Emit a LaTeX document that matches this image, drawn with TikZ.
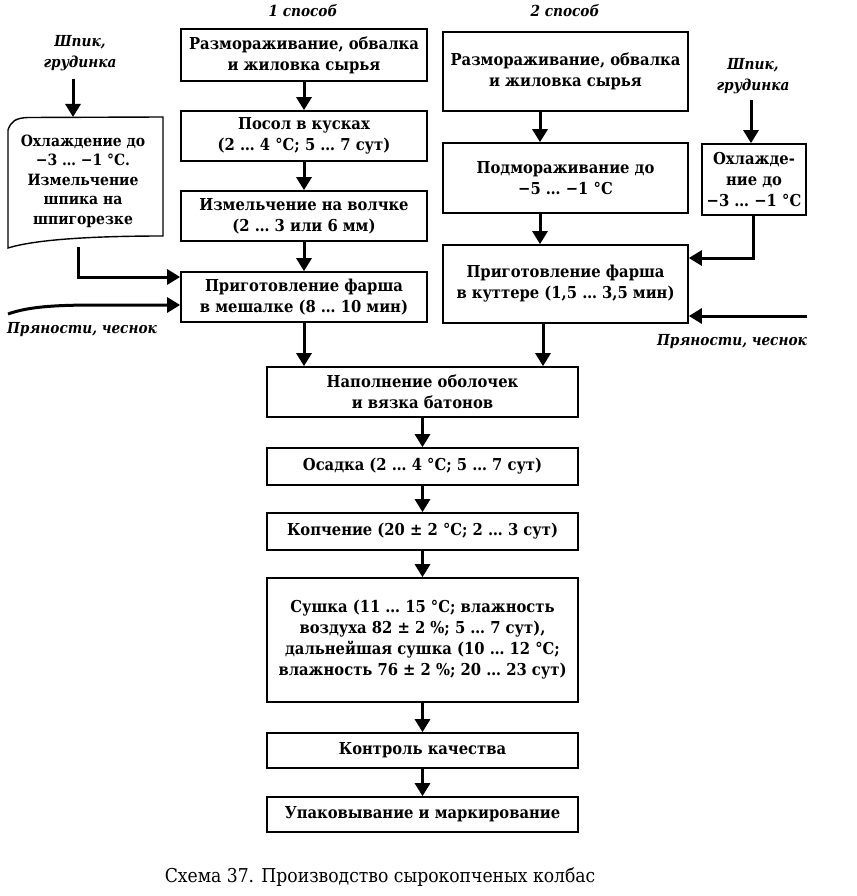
\documentclass[tikz,border=0pt]{standalone}
\usepackage{fontspec}
\IfFontExistsTF{DejaVu Serif Condensed}{%
  \setmainfont{DejaVu Serif Condensed}\def\fscale{1}}{%
  \setmainfont{DejaVu Serif}\def\fscale{0.9}}
\usetikzlibrary{arrows.meta}
\tikzset{
  box/.style={draw, line width=1.7pt, inner sep=0pt, align=center,
    font=\fontsize{\fpeval{16.4*\fscale}}{21}\selectfont\bfseries},
  arr/.style={line width=3pt, -{Triangle[length=13pt,width=15pt]}},
  lab/.style={align=center, inner sep=0pt, font=\fontsize{\fpeval{15.2*\fscale}}{21}\selectfont\bfseries\itshape},
  doctext/.style={align=center, inner sep=0pt, font=\fontsize{\fpeval{15.5*\fscale}}{19.5}\selectfont\bfseries}
}
\begin{document}
\begin{tikzpicture}[x=1pt,y=-1pt]
\useasboundingbox[fill=white] (0,0) rectangle (856,896);
% headers
\node[lab] (l1) at (303,11) {1 способ};
\node[lab] (l2) at (565,11) {2 способ};
% column 1
\node[box, minimum width=246pt, minimum height=52pt] (b1) at (304,55) {Размораживание, обвалка\\и жиловка сырья};
\node[box, minimum width=246pt, minimum height=50pt] (b2) at (304,136) {Посол в кусках\\(2 … 4 °С; 5 … 7 сут)};
\node[box, minimum width=246pt, minimum height=50pt] (b3) at (304,216) {Измельчение на волчке\\(2 … 3 или 6 мм)};
\node[box, minimum width=246pt, minimum height=50pt] (b4) at (304,297) {Приготовление фарша\\в мешалке (8 … 10 мин)};
% column 2
\node[box, minimum width=245pt, minimum height=79pt] (c1) at (565.5,71.5) {Размораживание, обвалка\\и жиловка сырья};
\node[box, minimum width=245pt, minimum height=70pt] (c2) at (565.5,178) {Подмораживание до\\−5 … −1 °С};
\node[box, minimum width=245pt, minimum height=78pt] (c3) at (565.5,284) {Приготовление фарша\\в куттере (1,5 … 3,5 мин)};
\node[box, minimum width=104pt, minimum height=71pt] (d) at (754,179.5) {Охлажде-\\ние до\\−3 … −1 °С};
% common column
\node[box, minimum width=311pt, minimum height=50pt] (e1) at (422.5,392) {Наполнение оболочек\\и вязка батонов};
\node[box, minimum width=311pt, minimum height=37pt] (e2) at (422.5,466.5) {Осадка (2 … 4 °С; 5 … 7 сут)};
\node[box, minimum width=311pt, minimum height=37pt] (e3) at (422.5,531.5) {Копчение (20 ± 2 °С; 2 … 3 сут)};
\node[box, minimum width=311pt, minimum height=124pt] (e4) at (422.5,640) {Сушка (11 … 15 °С; влажность\\воздуха 82 ± 2 \%; 5 … 7 сут),\\дальнейшая сушка (10 … 12 °С;\\влажность 76 ± 2 \%; 20 … 23 сут)};
\node[box, minimum width=311pt, minimum height=35pt] (e5) at (422.5,750.5) {Контроль качества};
\node[box, minimum width=311pt, minimum height=35pt] (e6) at (422.5,814.5) {Упаковывание и маркирование};
% left document box
\draw[line width=1.4pt, fill=white] (8,130) .. controls (11,121) and (16,118) .. (28,117.5) -- (163,117) -- (163,236)
  .. controls (110,236) and (40,238) .. (8,248) -- cycle;
\node[doctext] (doc) at (83,181) {Охлаждение до\\−3 … −1 °С.\\Измельчение\\шпика на\\шпигорезке};
\coordinate (doctop) at (73,117);
\coordinate (docbot) at (78,247);
% labels
\node[lab] (shL) at (80,53) {Шпик,\\грудинка};
\node[lab] (shR) at (753,76) {Шпик,\\грудинка};
\node[lab] (spL) at (82,330) {Пряности, чеснок};
\node[lab] (spR) at (732,342) {Пряности, чеснок};
\node[font=\fontsize{\fpeval{17.2*\fscale/0.9}}{20}\selectfont, inner sep=0pt] (cap) at (380,877) {Схема 37. Производство сырокопченых колбас};
% free ends
\coordinate (shLe) at (73,79);
\coordinate (shRe) at (751,100);
\coordinate (spLs) at (8,314);
\coordinate (spLy) at (0,305);
\coordinate (spRs) at (807,316);
\coordinate (jL) at (0,277);
\coordinate (jR) at (0,258);
\coordinate (cx) at (540,0);
% column 1 arrows
\draw[arr] (b1.south) -- (b2.north);
\draw[arr] (b2.south) -- (b3.north);
\draw[arr] (b3.south) -- (b4.north);
\draw[arr] (b4.south) -- (b4.south |- e1.north);
% column 2 arrows
\draw[arr] (cx |- c1.south) -- (cx |- c2.north);
\draw[arr] (cx |- c2.south) -- (cx |- c3.north);
\draw[arr] ([xshift=3pt]cx |- c3.south) -- ([xshift=3pt]cx |- e1.north);
% side inputs
\draw[arr] (shLe) -- (doctop);
\draw[arr] (docbot) -- (docbot |- jL) -- (b4.west |- jL);
\draw[arr] (spLs) .. controls (30,306) and (60,305) .. (100,305) -- (b4.west |- spLy);
\draw[arr] (shRe) -- (shRe |- d.north);
\draw[arr] ([xshift=-1pt]d.south) -- ([xshift=-1pt]d.south |- jR) -- (c3.east |- jR);
\draw[arr] (spRs) -- (c3.east |- spRs);
% common column arrows
\draw[arr] (e1.south) -- (e2.north);
\draw[arr] (e2.south) -- (e3.north);
\draw[arr] (e3.south) -- (e4.north);
\draw[arr] (e4.south) -- (e5.north);
\draw[arr] (e5.south) -- (e6.north);
\end{tikzpicture}
\end{document}
